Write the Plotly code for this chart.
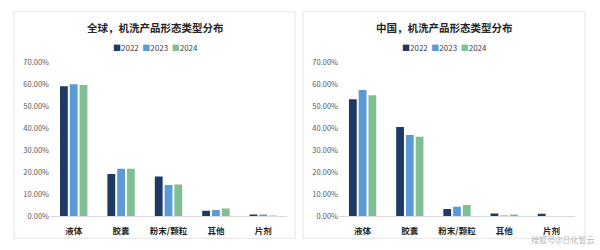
import plotly.graph_objects as go

categories = ["液体", "胶囊", "粉末/颗粒", "其他", "片剂"]
years = ["2022", "2023", "2024"]
global_2022 = [59.1, 19.3, 18.1, 2.5, 0.6]
global_2023 = [60.1, 21.6, 14.2, 2.9, 0.7]
global_2024 = [59.7, 21.6, 14.5, 3.6, 0.3]
china_2022 = [53.2, 40.6, 3.3, 1.3, 1.2]
china_2023 = [57.5, 37.0, 4.3, 0.4, 0.0]
china_2024 = [55.1, 36.2, 5.1, 0.7, 0.0]
titles = ["全球，机洗产品形态类型分布", "中国，机洗产品形态类型分布"]
colors = ["#1e3a64", "#5b9bd5", "#7fbf92"]
ytick_vals = [0, 10, 20, 30, 40, 50, 60, 70]
ytick_text = ["%.2f%%" % v for v in ytick_vals]

W, H = 600, 250
FONT = "Noto Sans CJK SC, Noto Sans, sans-serif"

fig = go.Figure()

panels = [
    dict(data=[global_2022, global_2023, global_2024], xa="x", ya="y",
         dom=[50 / W, 287 / W], box=(14, 6, 295, 243), cx=155),
    dict(data=[china_2022, china_2023, china_2024], xa="x2", ya="y2",
         dom=[339 / W, 575 / W], box=(303, 6, 585, 243), cx=444),
]

for p in panels:
    for yr, vals, c in zip(years, p["data"], colors):
        fig.add_trace(go.Bar(
            x=categories, y=vals, name=yr, marker=dict(color=c, line=dict(width=0)),
            xaxis=p["xa"], yaxis=p["ya"], showlegend=False,
        ))

layout = dict(
    width=W, height=H, margin=dict(l=0, r=0, t=0, b=0),
    paper_bgcolor="white", plot_bgcolor="white",
    barmode="group", bargap=0.38, bargroupgap=0.2,
    font=dict(family=FONT, color="#404040"),
    shapes=[], annotations=[],
)

legend_text = "  ".join(
    '<span style="color:%s">■</span>%s' % (c, y) for c, y in zip(colors, years)
)

for i, p in enumerate(panels):
    sfx = "" if i == 0 else "2"
    layout["xaxis" + sfx] = dict(
        domain=p["dom"], anchor="y" + sfx, showgrid=False,
        showline=True, linecolor="#d9d9d9", linewidth=1,
        ticks="", tickvals=categories, ticktext=["<b>" + c + "</b>" for c in categories],
        tickfont=dict(size=8.5, color="#262626"), ticklabelstandoff=6,
    )
    layout["yaxis" + sfx] = dict(
        domain=[(H - 220) / H, (H - 59) / H], anchor="x" + sfx,
        range=[0, 70], tickvals=ytick_vals, ticktext=ytick_text,
        showgrid=False, showline=False, zeroline=False, ticks="",
        tickfont=dict(size=7.5, color="#595959"),
    )
    x0, y0, x1, y1 = p["box"]
    layout["shapes"].append(dict(
        type="rect", xref="paper", yref="paper",
        x0=x0 / W, x1=x1 / W, y0=(H - y1) / H, y1=(H - y0) / H,
        line=dict(color="#e3e3e3", width=1), fillcolor="rgba(0,0,0,0)", layer="below",
    ))
    layout["annotations"].append(dict(
        text="<b>" + titles[i] + "</b>", xref="paper", yref="paper",
        x=p["cx"] / W, y=(H - 22) / H, xanchor="center", yanchor="middle",
        showarrow=False, font=dict(size=10.5, color="#262626"),
    ))
    layout["annotations"].append(dict(
        text=legend_text, xref="paper", yref="paper",
        x=p["cx"] / W, y=(H - 43) / H, xanchor="center", yanchor="middle",
        showarrow=False, font=dict(size=8, color="#404040"),
    ))

layout["annotations"].append(dict(
    text="搜狐号@日化智云", xref="paper", yref="paper", x=597 / W, y=(H - 244) / H,
    xanchor="right", yanchor="middle", showarrow=False,
    font=dict(size=8, color="rgba(150,150,150,0.7)"),
))

fig.update_layout(**layout)
fig.write_html("out.html")
